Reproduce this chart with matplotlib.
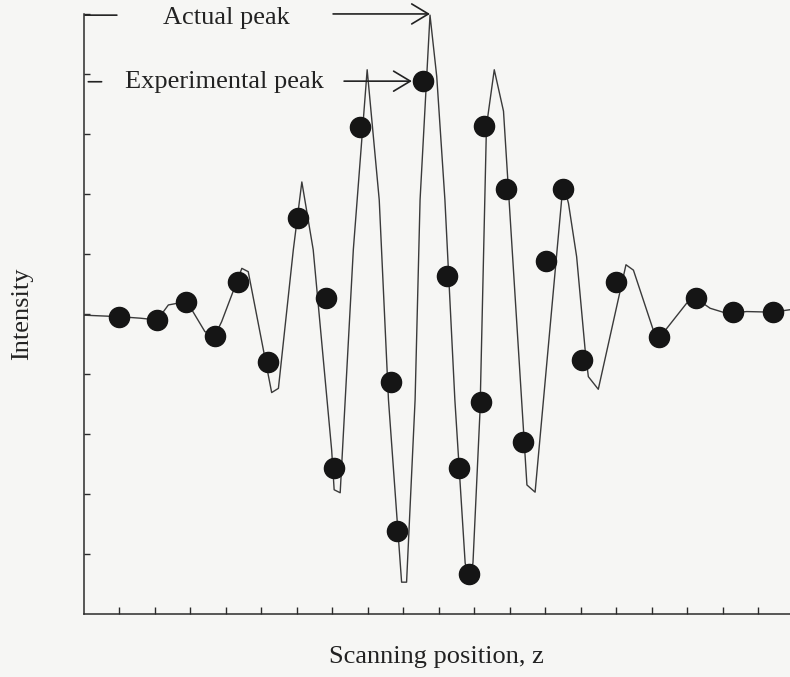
import matplotlib
matplotlib.use("Agg")
import matplotlib.pyplot as plt

# interferogram trace (scan position, intensity)
curve_x = [0.00, 1.00, 1.59, 2.08, 2.39, 2.89, 3.00, 3.42, 3.70, 3.89,
           4.46, 4.64, 5.30, 5.49, 5.91, 6.15, 6.47, 6.99, 7.06, 7.23,
           7.60, 7.99, 8.33, 8.59, 8.96, 9.10, 9.34, 9.48, 9.76, 9.95,
           10.18, 10.46, 10.75, 10.86, 10.97, 11.17, 11.35, 11.57, 11.83, 12.49,
           12.72, 13.51, 13.66, 13.89, 14.13, 14.22, 14.50, 15.28, 15.49, 16.05,
           16.21, 16.99, 17.25, 17.65, 18.12, 18.68, 19.41, 19.89]
curve_y = [-0.02, -0.045, -0.07, -0.10, 0.15, 0.205, 0.12, -0.295, -0.36, -0.13,
           0.76, 0.705, -1.31, -1.24, 1.07, 2.20, 1.07, -2.27, -2.93, -2.98,
           1.07, 4.07, 1.90, -1.43, -4.47, -4.47, -1.43, 1.90, 4.98, 3.955,
           1.90, -1.43, -4.15, -4.43, -4.15, -1.60, 3.13, 4.07, 3.38, -2.85,
           -2.97, 2.18, 1.845, 0.955, -0.60, -1.045, -1.255, 0.82, 0.73, -0.27,
           -0.405, 0.18, 0.26, 0.095, 0.01, 0.04, 0.03, 0.07]

# sampled (experimental) points
dot_x = [1.00, 2.08, 2.89, 3.70, 4.36, 5.21, 6.04, 6.83, 7.06, 7.79,
         8.65, 8.83, 9.55, 10.25, 10.59, 10.86, 11.21, 11.29, 11.90, 12.37,
         13.04, 13.52, 14.03, 14.99, 16.21, 17.25, 18.29, 19.41]
dot_y = [-0.045, -0.10, 0.205, -0.36, 0.53, -0.805, 1.60, 0.27, -2.57, 3.12,
         -1.13, -3.62, 3.88, 0.63, -2.57, -4.33, -1.47, 3.13, 2.08, -2.14,
         0.89, 2.08, -0.77, 0.54, -0.38, 0.26, 0.03, 0.03]

x_ticks = list(range(1, 20))
y_ticks = list(range(-4, 6))

ink = "#2b2b2b"
bg = "#f6f6f4"
plt.rcParams["font.family"] = ["Liberation Serif", "DejaVu Serif"]

fig = plt.figure(figsize=(7.9, 6.77), dpi=100, facecolor=bg)
ax = fig.add_axes([0.1057, 0.0931, 0.8943, 0.8863])
ax.set_facecolor(bg)

ax.plot(curve_x, curve_y, color="#3a3a3a", lw=1.0, zorder=2)
ax.plot(dot_x, dot_y, ls="none", marker="o", ms=14.5, color="#151515", zorder=3)

ax.set_xlim(0, 19.9)
ax.set_ylim(-5, 5)
ax.set_xticks(x_ticks)
ax.set_yticks(y_ticks)
ax.tick_params(axis="x", direction="in", length=5, width=1.0, color=ink, labelbottom=False)
ax.tick_params(axis="y", direction="in", length=4, width=1.0, color=ink, labelleft=False)
for side in ["top", "right"]:
    ax.spines[side].set_visible(False)
for side in ["left", "bottom"]:
    ax.spines[side].set_color(ink)
    ax.spines[side].set_linewidth(1.1)

ax.set_xlabel("Scanning position, z", fontsize=19, color="#222222")
ax.xaxis.set_label_coords(0.5, -0.072)
ax.xaxis.label.set_va("center")
ax.set_ylabel("Intensity", fontsize=19, color="#222222")
ax.yaxis.set_label_coords(-0.087, 0.5)
ax.yaxis.label.set_va("center")

# peak labels with arrows
arrow = dict(arrowstyle="->,head_length=0.6,head_width=0.36", color="#222222",
             lw=1.2, mutation_scale=20, shrinkA=0, shrinkB=0)
ax.annotate("", xy=(9.76, 5.0), xytext=(7.03, 5.0), arrowprops=arrow, annotation_clip=False)
ax.annotate("", xy=(9.25, 3.88), xytext=(7.34, 3.88), arrowprops=arrow, annotation_clip=False)
ax.text(2.24, 4.93, "Actual peak", fontsize=19, color="#222222", va="center", ha="left")
ax.text(1.17, 3.87, "Experimental peak", fontsize=19, color="#222222", va="center", ha="left")
dash = dict(arrowstyle="-", color="#222222", lw=1.2, shrinkA=0, shrinkB=0)
ax.annotate("", xy=(0.94, 4.98), xytext=(0.04, 4.98), arrowprops=dash, annotation_clip=False)
ax.annotate("", xy=(0.51, 3.87), xytext=(0.135, 3.87), arrowprops=dash, annotation_clip=False)

fig.savefig("out.png", dpi=100, facecolor=bg)
